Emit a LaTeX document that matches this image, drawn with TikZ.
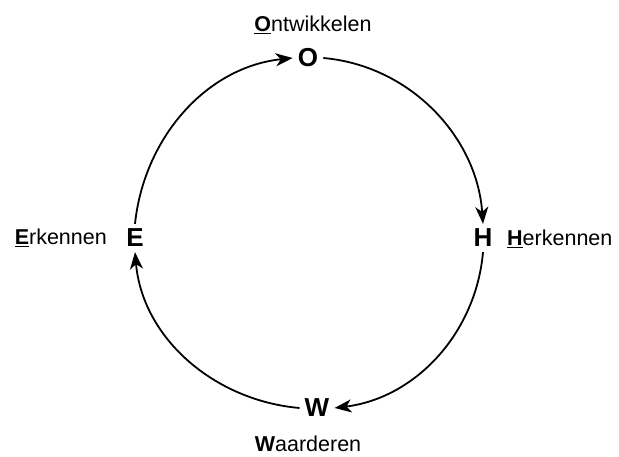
\documentclass[tikz,border=0pt]{standalone}
\usepackage{fontspec}
\setmainfont{Liberation Sans}
\usetikzlibrary{arrows.meta}
\begin{document}
\begin{tikzpicture}[x=1pt,y=1pt,
  letter/.style={font=\fontsize{26}{30}\selectfont\bfseries, inner sep=5pt},
  lbl/.style={font=\fontsize{21.5}{26}\selectfont, inner sep=0pt},
  conn/.style={line width=1.8pt, -{Stealth[length=17pt,width=13pt,inset=5pt]}}]
\useasboundingbox (0,0) rectangle (619,457);
\node[letter] (O) at (308,399) {O};
\node[letter] (H) at (483,219) {H};
\node[letter] (W) at (317,49) {W};
\node[letter] (E) at (135,219) {E};
\node[lbl, anchor=base] (lO) at (313,425) {\underline{\textbf{O}}ntwikkelen};
\node[lbl, anchor=base east] (lE) at (107,212) {\underline{\textbf{E}}rkennen};
\node[lbl, anchor=base west] (lH) at (507,211) {\underline{\textbf{H}}erkennen};
\node[lbl, anchor=base] (lW) at (308,5) {\textbf{W}aarderen};
\draw[conn] (O.east) to[out=-5, in=94, looseness=0.97] (H.north);
\draw[conn] (H.south) to[out=-95, in=7, looseness=0.97] (W.east);
\draw[conn] (W.west) to[out=175, in=-85, looseness=0.97] (E.south);
\draw[conn] (E.north) to[out=84, in=186, looseness=0.97] (O.west);
\end{tikzpicture}
\end{document}
